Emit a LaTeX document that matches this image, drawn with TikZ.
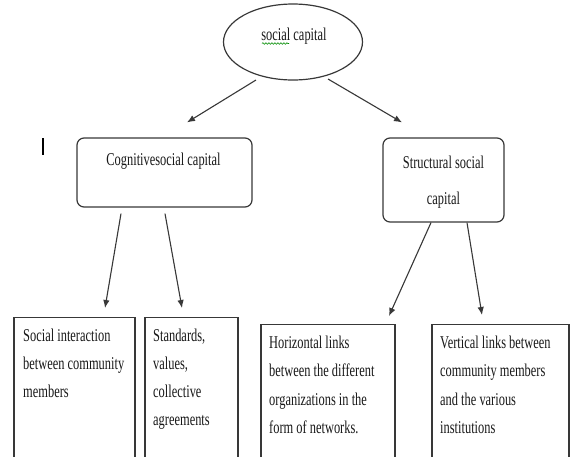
\documentclass[tikz,border=0pt]{standalone}
\usepackage{fontspec}
\setmainfont{Liberation Serif}[FakeStretch=0.69]
\usetikzlibrary{shapes.geometric,arrows.meta,decorations.pathmorphing}
\begin{document}
\begin{tikzpicture}[x=1pt,y=-1pt,
  bord/.style={draw=black!78, line width=1.2pt},
  topbox/.style={bord, rectangle, rounded corners=7pt, inner sep=0pt},
  lowbox/.style={bord, rectangle, inner sep=0pt, anchor=north, minimum height=160pt},
  arr/.style={draw=black!78, line width=1.1pt, -{Latex[length=8pt,width=6.5pt]}},
  txt/.style={inner sep=0pt, anchor=base, font=\fontsize{18}{28}\selectfont, text=black!90},
  ltxt/.style={txt, anchor=base west}
]
\useasboundingbox (0,0) rectangle (571,456);
\clip (0,0) rectangle (571,456);
\fill[white] (0,0) rectangle (571,456);

% top ellipse
\node[bord, ellipse, minimum width=139pt, minimum height=76pt, inner sep=0pt] (sc) at (293,42) {};
\node[txt] (sct) at (294,40) {social capital};
\draw[green!55!black, line width=0.6pt, decorate, decoration={snake, amplitude=0.8pt, segment length=3pt}] ([shift={(-32,3.5)}]sct.base) -- ([shift={(-5,3.5)}]sct.base);

% mid boxes
\node[topbox, minimum width=175pt, minimum height=69pt] (cog) at (164.5,172.5) {};
\node[txt] (cogt) at (163.5,165) {Cognitivesocial capital};

\node[topbox, minimum width=121pt, minimum height=84pt] (str) at (443.5,180) {};
\node[txt] (strt) at (443.5,168) {\parbox[t]{130pt}{\centering\baselineskip=36pt Structural social\\capital}};

% stray mark
\coordinate (ma) at (43,138);
\coordinate (mb) at (43,155);
\draw[black, line width=1.5pt] (ma) -- (mb);

% bottom boxes
\node[lowbox, minimum width=121pt] (b1) at (74.5,317) {};
\node[lowbox, minimum width=93pt] (b2) at (191.5,317) {};
\node[lowbox, minimum width=134pt] (b3) at (328,324) {};
\node[lowbox, minimum width=137pt] (b4) at (500.5,324) {};

\node[ltxt] (b1t) at (23,341) {\parbox[t]{125pt}{\raggedright\baselineskip=28pt Social interaction\\between community\\members}};
\node[ltxt] (b2t) at (153,341) {\parbox[t]{90pt}{\raggedright\baselineskip=28pt Standards,\\values,\\collective\\agreements}};
\node[ltxt] (b3t) at (269,348) {\parbox[t]{130pt}{\raggedright\baselineskip=28.5pt Horizontal links\\between the different\\organizations in the\\form of networks.}};
\node[ltxt] (b4t) at (440,348) {\parbox[t]{130pt}{\raggedright\baselineskip=28.5pt Vertical links between\\community members\\and the various\\institutions}};

% arrows
\draw[arr] ([shift={(-37,38)}]sc.center) -- ([shift={(22.5,-15)}]cog.north);
\draw[arr] ([shift={(35,37)}]sc.center) -- ([shift={(-41.5,-15)}]str.north);
\draw[arr] ([shift={(-43.5,6)}]cog.south) -- ([shift={(30.5,-9)}]b1.north);
\draw[arr] ([shift={(0.5,6)}]cog.south) -- ([shift={(-9.5,-9)}]b2.north);
\draw[arr] ([shift={(-12.5,0)}]str.south) -- ([shift={(61,-8)}]b3.north);
\draw[arr] ([shift={(23.5,0)}]str.south) -- ([shift={(-18.5,-9)}]b4.north);
\end{tikzpicture}
\end{document}
